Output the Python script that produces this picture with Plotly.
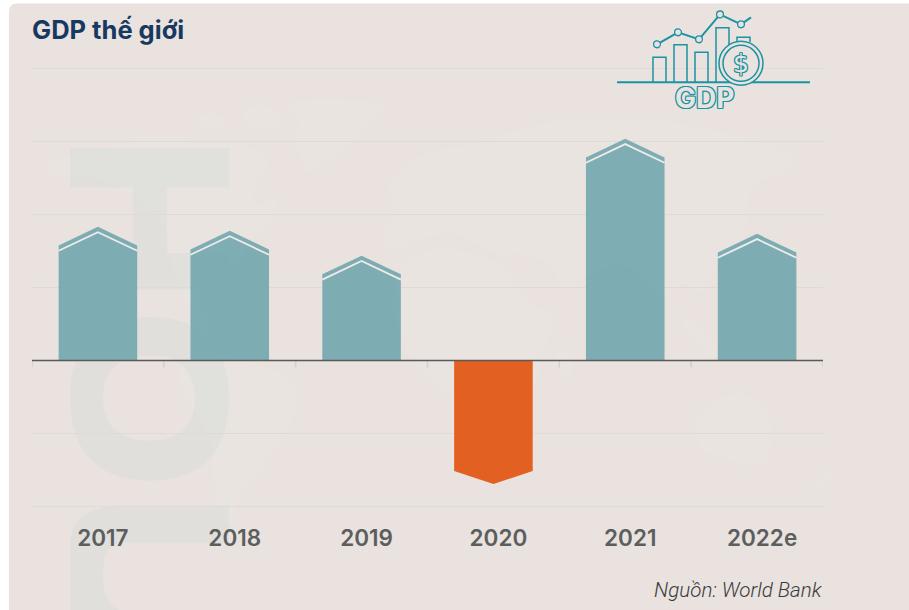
import re
import plotly.graph_objects as go

# ---- data ----
categories = ["2017", "2018", "2019", "2020", "2021", "2022e"]
growth = [3.66, 3.55, 2.87, -3.38, 6.07, 3.47]
grid_values = [-4, -2, 0, 2, 4, 6, 8]
title_text = "GDP thế giới"
source_text = "Nguồn: World Bank"

TEAL = "rgba(114,166,174,0.9)"
ORANGE = "#E26122"
CARD = "#E9E2DF"
ICON = "#1B93A3"
MAP = "#E9E4E0"
MARK = "rgba(205,215,215,0.3)"

W, H = 909, 610
Y_MIN, Y_MAX = -4.2, 8.2
PX_PER_UNIT = (507 - 68) / 12
L, R = 32, 823
T = 68 - (Y_MAX - 8) * PX_PER_UNIT
B = 507 + (-4 - Y_MIN) * PX_PER_UNIT


def px(path):
    """Turn a path written in window pixels into paper coordinates."""
    def conv(m):
        x, y = float(m.group(1)), float(m.group(2))
        return f"{(x - L) / (R - L):.5f},{(B - y) / (B - T):.5f}"
    return re.sub(r"(-?\d+\.?\d*),(-?\d+\.?\d*)", conv, path)


def shape(path, fill=None, line=None, width=0, layer="below"):
    return dict(type="path", xref="paper", yref="paper", path=px(path),
                fillcolor=fill or "rgba(0,0,0,0)",
                line=dict(color=line or "rgba(0,0,0,0)", width=width), layer=layer)


def circle(cx, cy, r):
    return (f"M{cx - r},{cy} C{cx - r},{cy - r * .55} {cx - r * .55},{cy - r} {cx},{cy - r} "
            f"C{cx + r * .55},{cy - r} {cx + r},{cy - r * .55} {cx + r},{cy} "
            f"C{cx + r},{cy + r * .55} {cx + r * .55},{cy + r} {cx},{cy + r} "
            f"C{cx - r * .55},{cy + r} {cx - r},{cy + r * .55} {cx - r},{cy} Z")


def blob(points):
    """Closed smooth outline through the midpoints of a rough polygon."""
    n = len(points)
    mids = [((points[i][0] + points[(i + 1) % n][0]) / 2,
             (points[i][1] + points[(i + 1) % n][1]) / 2) for i in range(n)]
    d = f"M{mids[-1][0]},{mids[-1][1]} "
    for i in range(n):
        d += f"Q{points[i][0]},{points[i][1]} {mids[i][0]},{mids[i][1]} "
    return d + "Z"


shapes = []
# card
shapes.append(shape("M9,620 L9,11 Q9,3 17,3 L920,3 L920,620 Z", fill=CARD))

# faint world map
continents = [
    [(43, 170), (60, 156), (84, 150), (100, 154), (118, 142), (150, 134), (186, 136), (205, 146), (228, 142),
     (262, 150), (270, 168), (258, 180), (250, 196), (262, 208), (276, 196), (277, 210), (272, 222), (250, 238),
     (240, 262), (225, 268), (214, 282), (204, 290), (200, 306), (212, 330), (204, 340), (192, 320), (180, 290),
     (170, 262), (168, 230), (150, 205), (120, 188), (96, 176), (70, 180)],
    [(190, 118), (215, 112), (232, 122), (205, 130)],
    [(240, 108), (265, 104), (292, 118), (270, 132), (245, 124)],
    [(282, 104), (320, 98), (360, 100), (392, 104), (372, 125), (345, 150), (322, 164), (308, 176), (300, 160),
     (296, 135), (302, 118)],
    [(178, 362), (215, 352), (256, 362), (302, 384), (296, 408), (288, 430), (270, 460), (250, 478), (240, 494),
     (236, 510), (232, 526), (224, 528), (218, 500), (212, 478), (214, 445), (196, 415), (180, 390)],
    [(385, 190), (400, 170), (430, 148), (470, 146), (520, 128), (570, 118), (640, 118), (700, 126), (760, 140),
     (800, 158), (780, 176), (760, 178), (745, 200), (750, 225), (735, 248), (715, 258), (712, 282), (700, 296),
     (680, 280), (668, 300), (650, 292), (630, 262), (600, 268), (580, 282), (565, 292), (548, 262), (520, 252),
     (500, 256), (478, 246), (458, 232), (434, 236), (412, 240), (385, 258), (382, 228), (398, 212)],
    [(400, 262), (440, 246), (484, 256), (508, 270), (530, 306), (560, 316), (545, 345), (538, 380), (520, 430),
     (500, 462), (478, 470), (465, 440), (458, 400), (430, 378), (405, 352), (392, 310)],
    [(560, 340), (575, 370), (565, 382), (555, 365)],
    [(676, 310), (700, 325), (722, 360), (705, 352), (688, 335)],
    [(696, 410), (730, 392), (758, 398), (775, 430), (770, 458), (750, 470), (722, 455), (698, 452)],
    [(808, 490), (832, 470), (836, 474), (812, 494)],
]
for c in continents:
    shapes.append(shape(blob(c), fill=MAP))

# faint letters behind the chart
shapes.append(shape("M70,148 L229,148 L229,187 L167,187 L167,253 L229,253 L229,290 L70,290 L70,253 L133,253 L133,187 L70,187 Z", fill=MARK))
shapes.append(shape(
    "M150,317 C205,317 229,350 229,398 C229,448 205,481 150,481 C95,481 70,448 70,398 C70,350 95,317 150,317 Z "
    "M150,355 C118,355 103,372 103,398 C103,425 118,441 150,441 C180,441 195,425 195,398 C195,372 180,355 150,355 Z",
    fill=MARK))
shapes.append(shape(
    "M70,620 L70,545 C70,520 90,506 120,506 L229,506 L229,543 L125,543 C110,543 103,550 103,575 C103,600 112,610 125,612 L125,620 Z",
    fill=MARK))

# GDP icon
for x0, x1, y0 in [(653, 666, 57), (674, 687, 44.5), (695, 708, 52), (716, 729, 27.5)]:
    shapes.append(shape(f"M{x0},82 L{x0},{y0} L{x1},{y0} L{x1},82", line=ICON, width=1.5, layer="above"))
shapes.append(shape("M617,82 L810,82", line=ICON, width=2, layer="above"))
shapes.append(shape("M737,42 L737,37 L750,37 L750,42", line=ICON, width=1.5, layer="above"))
shapes.append(shape(circle(741, 63, 22), fill=CARD, line=ICON, width=1.5, layer="above"))
shapes.append(shape(circle(741, 63, 18), line=ICON, width=1.5, layer="above"))
shapes.append(shape("M657,44 L678,32 L699,39 L720,14 L741,24 L751,17", line=ICON, width=2, layer="above"))
for cx, cy in [(657, 44), (678, 32), (699, 39), (720, 14), (741, 24)]:
    shapes.append(shape(circle(cx, cy, 3.4), fill=CARD, line=ICON, width=1.3, layer="above"))

fig = go.Figure()

# bar geometry, in axis units
HALF = 0.298
DROP_POS, DROP_NEG, GAP = 0.51, 0.36, 0.145

for i, v in enumerate(growth):
    l, r = i - HALF, i + HALF
    if v >= 0:
        fig.add_trace(go.Scatter(
            x=[l, l, i, r, r, l], y=[0, v - DROP_POS, v, v - DROP_POS, 0, 0],
            mode="lines", fill="toself", fillcolor=TEAL, line=dict(width=0),
            name=categories[i], hoverinfo="skip"))
        fig.add_trace(go.Scatter(
            x=[l, i, r], y=[v - DROP_POS - GAP, v - GAP, v - DROP_POS - GAP],
            mode="lines", line=dict(color="#EFEBE8", width=1.8), hoverinfo="skip"))
    else:
        fig.add_trace(go.Scatter(
            x=[l, l, i, r, r, l], y=[0, v + DROP_NEG, v, v + DROP_NEG, 0, 0],
            mode="lines", fill="toself", fillcolor=ORANGE, line=dict(width=0),
            name=categories[i], hoverinfo="skip"))

# category boundary ticks and baseline
boundary_x, boundary_y = [], []
for i in range(len(categories) + 1):
    boundary_x += [i - 0.5, i - 0.5, None]
    boundary_y += [0, -0.19, None]
fig.add_trace(go.Scatter(x=boundary_x, y=boundary_y, mode="lines",
                         line=dict(color="#D2D1CE", width=1.5), hoverinfo="skip"))
fig.add_trace(go.Scatter(x=[-0.5, len(categories) - 0.5], y=[0, 0], mode="lines",
                         line=dict(color="#5A5A58", width=1.5), hoverinfo="skip"))

outline = ", ".join(f"{a}px {b}px {ICON}" for a, b in
                    [(1, 0), (-1, 0), (0, 1), (0, -1), (1, 1), (-1, -1), (1, -1), (-1, 1)])

fig.update_layout(
    width=W, height=H, showlegend=False,
    paper_bgcolor="white", plot_bgcolor="rgba(0,0,0,0)",
    margin=dict(l=L, r=W - R, t=T, b=H - B),
    title=dict(text=f"<b>{title_text}</b>", x=32 / W, xanchor="left", y=1 - 30 / H, yanchor="middle",
               font=dict(family="Inter", size=25.5, color="#17395F")),
    shapes=shapes,
    annotations=[
        dict(text=source_text, xref="paper", yref="paper", x=(825 - L) / (R - L), y=(B - 590) / (B - T),
             xanchor="right", yanchor="middle", showarrow=False,
             font=dict(family="Roboto", size=20.6, color="#3B3B3B", style="italic", weight=300)),
        dict(text="$", xref="paper", yref="paper", x=(741 - L) / (R - L), y=(B - 63) / (B - T),
             xanchor="center", yanchor="middle", showarrow=False,
             font=dict(family="DejaVu Sans", size=25, color=CARD, shadow=outline)),
        dict(text="<b>GDP</b>", xref="paper", yref="paper", x=(704 - L) / (R - L), y=(B - 98) / (B - T),
             xanchor="center", yanchor="middle", showarrow=False,
             font=dict(family="Inter", size=28, color=CARD, shadow=outline)),
    ],
    xaxis=dict(range=[-0.5, 5.5], tickvals=list(range(len(categories))), ticktext=categories,
               showgrid=False, zeroline=False, ticks="", showline=False,
               ticklabelshift=5, ticklabelstandoff=8,
               tickfont=dict(family="Inter", size=22.5, color="#5C5E5E", weight=600)),
    yaxis=dict(range=[Y_MIN, Y_MAX], tickvals=grid_values, showticklabels=False, ticks="",
               showgrid=True, gridcolor="#DCDBD8", gridwidth=1.2, zeroline=False, showline=False),
)

fig.write_html("out.html", config=dict(displayModeBar=False),
               post_script="document.body.style.margin='0';document.body.style.overflow='hidden';")
